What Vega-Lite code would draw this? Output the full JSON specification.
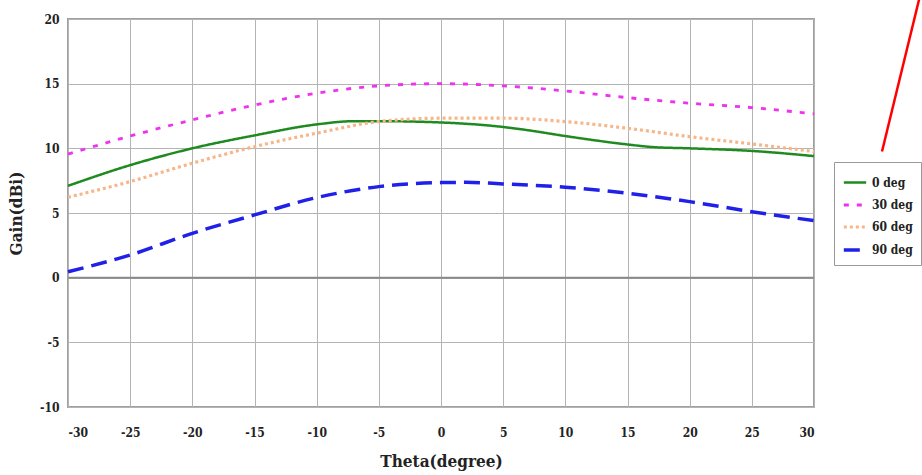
{
  "$schema": "https://vega.github.io/schema/vega-lite/v6.json",
  "width": 746,
  "height": 388,
  "autosize": "none",
  "padding": {"left": 68, "top": 19, "right": 108, "bottom": 68},
  "background": "white",
  "config": {
    "view": {"stroke": "#a0a0a0", "strokeWidth": 2},
    "font": "DejaVu Serif Condensed",
    "axis": {
      "labelFont": "DejaVu Serif Condensed",
      "labelFontWeight": "bold",
      "labelFontSize": 12,
      "labelColor": "#222",
      "titleFont": "DejaVu Serif Condensed",
      "titleFontWeight": "bold",
      "titleFontSize": 17,
      "titleColor": "#222",
      "domain": false,
      "ticks": false,
      "gridColor": "#b4b4b4",
      "gridWidth": 1,
      "gridOpacity": 1
    },
    "legend": {
      "orient": "none",
      "legendX": 766,
      "legendY": 143,
      "strokeColor": "#999",
      "fillColor": "white",
      "padding": 8,
      "labelFont": "DejaVu Serif Condensed",
      "labelFontWeight": "bold",
      "labelFontSize": 12,
      "labelColor": "#222",
      "symbolStrokeWidth": 2.5,
      "symbolSize": 500,
      "rowPadding": 3
    }
  },
  "datasets": {
    "gain": [
      {"theta": -30, "gain": 7.1, "series": "0 deg"},
      {"theta": -25, "gain": 8.7, "series": "0 deg"},
      {"theta": -20, "gain": 10.0, "series": "0 deg"},
      {"theta": -15, "gain": 11.0, "series": "0 deg"},
      {"theta": -10, "gain": 11.85, "series": "0 deg"},
      {"theta": -7, "gain": 12.1, "series": "0 deg"},
      {"theta": -5, "gain": 12.1, "series": "0 deg"},
      {"theta": 0, "gain": 12.0, "series": "0 deg"},
      {"theta": 5, "gain": 11.65, "series": "0 deg"},
      {"theta": 7, "gain": 11.4, "series": "0 deg"},
      {"theta": 10, "gain": 10.95, "series": "0 deg"},
      {"theta": 15, "gain": 10.3, "series": "0 deg"},
      {"theta": 17, "gain": 10.1, "series": "0 deg"},
      {"theta": 20, "gain": 10.0, "series": "0 deg"},
      {"theta": 25, "gain": 9.8, "series": "0 deg"},
      {"theta": 30, "gain": 9.4, "series": "0 deg"},

      {"theta": -30, "gain": 9.55, "series": "30 deg"},
      {"theta": -25, "gain": 10.95, "series": "30 deg"},
      {"theta": -20, "gain": 12.2, "series": "30 deg"},
      {"theta": -15, "gain": 13.35, "series": "30 deg"},
      {"theta": -10, "gain": 14.26, "series": "30 deg"},
      {"theta": -5, "gain": 14.83, "series": "30 deg"},
      {"theta": 0, "gain": 15.0, "series": "30 deg"},
      {"theta": 5, "gain": 14.83, "series": "30 deg"},
      {"theta": 10, "gain": 14.44, "series": "30 deg"},
      {"theta": 15, "gain": 13.92, "series": "30 deg"},
      {"theta": 20, "gain": 13.49, "series": "30 deg"},
      {"theta": 25, "gain": 13.15, "series": "30 deg"},
      {"theta": 30, "gain": 12.66, "series": "30 deg"},

      {"theta": -30, "gain": 6.22, "series": "60 deg"},
      {"theta": -25, "gain": 7.43, "series": "60 deg"},
      {"theta": -20, "gain": 8.85, "series": "60 deg"},
      {"theta": -15, "gain": 10.13, "series": "60 deg"},
      {"theta": -10, "gain": 11.17, "series": "60 deg"},
      {"theta": -5, "gain": 12.07, "series": "60 deg"},
      {"theta": 0, "gain": 12.33, "series": "60 deg"},
      {"theta": 5, "gain": 12.33, "series": "60 deg"},
      {"theta": 10, "gain": 12.07, "series": "60 deg"},
      {"theta": 15, "gain": 11.55, "series": "60 deg"},
      {"theta": 20, "gain": 10.9, "series": "60 deg"},
      {"theta": 25, "gain": 10.34, "series": "60 deg"},
      {"theta": 30, "gain": 9.75, "series": "60 deg"},

      {"theta": -30, "gain": 0.46, "series": "90 deg"},
      {"theta": -25, "gain": 1.75, "series": "90 deg"},
      {"theta": -20, "gain": 3.43, "series": "90 deg"},
      {"theta": -15, "gain": 4.85, "series": "90 deg"},
      {"theta": -10, "gain": 6.19, "series": "90 deg"},
      {"theta": -5, "gain": 7.04, "series": "90 deg"},
      {"theta": 0, "gain": 7.35, "series": "90 deg"},
      {"theta": 2, "gain": 7.37, "series": "90 deg"},
      {"theta": 5, "gain": 7.25, "series": "90 deg"},
      {"theta": 10, "gain": 6.99, "series": "90 deg"},
      {"theta": 15, "gain": 6.53, "series": "90 deg"},
      {"theta": 20, "gain": 5.88, "series": "90 deg"},
      {"theta": 25, "gain": 5.1, "series": "90 deg"},
      {"theta": 30, "gain": 4.41, "series": "90 deg"}
    ],
    "zero": [{"y": 0}],
    "arrow": [{"x1": 35.47, "y1": 9.76, "x2": 38.55, "y2": 21.9}]
  },
  "layer": [
    {
      "data": {"name": "zero"},
      "mark": {"type": "rule", "color": "#8a8a8a", "strokeWidth": 2},
      "encoding": {
        "y": {"field": "y", "type": "quantitative", "scale": {"domain": [-10, 20]}}
      }
    },
    {
      "data": {"name": "gain"},
      "mark": {"type": "line", "interpolate": "monotone", "strokeCap": "butt"},
      "encoding": {
        "x": {
          "field": "theta", "type": "quantitative",
          "scale": {"domain": [-30, 30], "nice": false, "zero": false},
          "axis": {"values": [-30, -25, -20, -15, -10, -5, 0, 5, 10, 15, 20, 25, 30], "labelExpr": "'' + datum.value", "labelPadding": 20, "title": "Theta(degree)", "titlePadding": 15}
        },
        "y": {
          "field": "gain", "type": "quantitative",
          "scale": {"domain": [-10, 20], "nice": false},
          "axis": {"values": [-10, -5, 0, 5, 10, 15, 20], "labelExpr": "'' + datum.value", "labelPadding": 9, "title": "Gain(dBi)", "titlePadding": 14}
        },
        "color": {
          "field": "series", "type": "nominal",
          "scale": {"domain": ["0 deg", "30 deg", "60 deg", "90 deg"], "range": ["#1f8a1f", "#ee33ee", "#f7b68a", "#2020e8"]},
          "legend": {"title": null}
        },
        "strokeDash": {
          "field": "series", "type": "nominal",
          "scale": {"domain": ["0 deg", "30 deg", "60 deg", "90 deg"], "range": [[1, 0], [5, 8], [3, 3], [16, 8]]},
          "legend": {"title": null}
        },
        "strokeWidth": {
          "field": "series", "type": "nominal",
          "scale": {"domain": ["0 deg", "30 deg", "60 deg", "90 deg"], "range": [2.5, 3.5, 2.5, 3]},
          "legend": null
        }
      }
    },
    {
      "data": {"name": "arrow"},
      "mark": {"type": "rule", "color": "#ff0000", "strokeWidth": 2.5, "clip": false},
      "encoding": {
        "x": {"field": "x1", "type": "quantitative"},
        "y": {"field": "y1", "type": "quantitative"},
        "x2": {"field": "x2"},
        "y2": {"field": "y2"}
      }
    }
  ]
}
